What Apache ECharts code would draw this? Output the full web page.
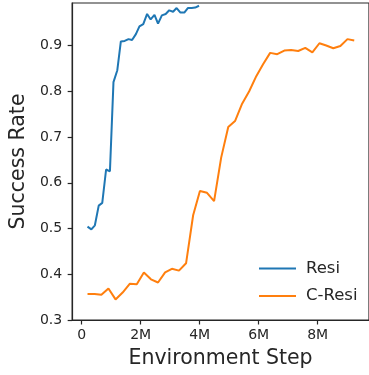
<!DOCTYPE html>
<html>
<head>
<meta charset="utf-8">
<script src="https://cdn.jsdelivr.net/npm/echarts@6/dist/echarts.min.js"></script>
<style>
  html, body { margin: 0; padding: 0; background: #fff; }
  #chart { width: 369px; height: 375px; }
</style>
</head>
<body>
<div id="chart"></div>
<script>
// environment steps in millions
const resiSteps = [0.2, 0.33, 0.45, 0.58, 0.7, 0.83, 0.96, 1.08, 1.21, 1.33, 1.46, 1.59, 1.71, 1.84, 1.96, 2.09,
  2.22, 2.34, 2.47, 2.59, 2.72, 2.85, 2.97, 3.1, 3.22, 3.35, 3.48, 3.6, 3.73, 3.85, 3.98];
const resiRate = [0.504, 0.498, 0.507, 0.55, 0.556, 0.629, 0.625, 0.82, 0.846, 0.909, 0.91, 0.914, 0.912, 0.925,
  0.942, 0.947, 0.969, 0.957, 0.967, 0.948, 0.966, 0.969, 0.977, 0.974, 0.982, 0.972, 0.972, 0.982, 0.982, 0.983, 0.987];

const cResiSteps = [0.2, 0.44, 0.67, 0.91, 1.15, 1.39, 1.63, 1.87, 2.11, 2.35, 2.59, 2.83, 3.06, 3.3, 3.54, 3.78,
  4.01, 4.25, 4.49, 4.73, 4.97, 5.2, 5.44, 5.68, 5.92, 6.15, 6.39, 6.63, 6.87, 7.1, 7.34, 7.58, 7.82, 8.06,
  8.29, 8.53, 8.77, 9.01, 9.24];
const cResiRate = [0.357, 0.357, 0.355, 0.369, 0.345, 0.36, 0.379, 0.378, 0.404, 0.389, 0.382, 0.404, 0.412,
  0.408, 0.424, 0.529, 0.582, 0.578, 0.56, 0.655, 0.722, 0.735, 0.773, 0.8, 0.833, 0.859, 0.884, 0.881, 0.889,
  0.89, 0.888, 0.895, 0.885, 0.905, 0.9, 0.894, 0.899, 0.914, 0.911];

const xTicks = [0, 2, 4, 6, 8];
const yTicks = [0.3, 0.4, 0.5, 0.6, 0.7, 0.8, 0.9];

const font = "DejaVu Sans";
const ink = "#262626";

const pairs = (xs, ys) => xs.map((x, i) => [x, ys[i]]);

const chart = echarts.init(document.getElementById("chart"), null, {renderer: "canvas"});
chart.setOption({
  animation: false,
  grid: {
    left: 71, right: -1, top: 3, bottom: 55,
    show: true, borderColor: ink, borderWidth: 1.2
  },
  legend: {
    orient: "vertical",
    left: 254, top: 255,
    icon: "rect",
    itemWidth: 37, itemHeight: 2, itemGap: 10.4,
    textStyle: {fontFamily: font, fontSize: 16.5, lineHeight: 16, color: ink, padding: [0, 0, 0, 5]},
    data: ["Resi", "C-Resi"]
  },
  xAxis: {
    type: "value",
    min: -0.32, max: 9.74,
    name: "Environment Step",
    nameLocation: "middle",
    nameGap: 28,
    nameTextStyle: {fontFamily: font, fontSize: 20.5, color: ink},
    axisLine: {show: true, onZero: false, lineStyle: {color: ink, width: 1.2}},
    axisTick: {show: true, length: 4.5, lineStyle: {color: ink, width: 1.2}, customValues: xTicks},
    axisLabel: {
      fontFamily: font, fontSize: 14, color: ink, margin: 8, customValues: xTicks,
      formatter: v => v === 0 ? "0" : v + "M"
    },
    splitLine: {show: false}
  },
  yAxis: {
    type: "value",
    min: 0.3, max: 0.993,
    name: "Success Rate",
    nameLocation: "middle",
    nameGap: 37,
    nameTextStyle: {fontFamily: font, fontSize: 20.5, color: ink},
    axisLine: {show: true, onZero: false, lineStyle: {color: ink, width: 1.2}},
    axisTick: {show: true, length: 4.5, lineStyle: {color: ink, width: 1.2}, customValues: yTicks},
    axisLabel: {
      fontFamily: font, fontSize: 14, color: ink, margin: 10, customValues: yTicks,
      formatter: v => v.toFixed(1)
    },
    splitLine: {show: false}
  },
  series: [
    {
      name: "Resi", type: "line", symbol: "none",
      lineStyle: {color: "#1f77b4", width: 2},
      itemStyle: {color: "#1f77b4"},
      data: pairs(resiSteps, resiRate)
    },
    {
      name: "C-Resi", type: "line", symbol: "none",
      lineStyle: {color: "#ff7f0e", width: 2},
      itemStyle: {color: "#ff7f0e"},
      data: pairs(cResiSteps, cResiRate)
    }
  ]
});
</script>
</body>
</html>
